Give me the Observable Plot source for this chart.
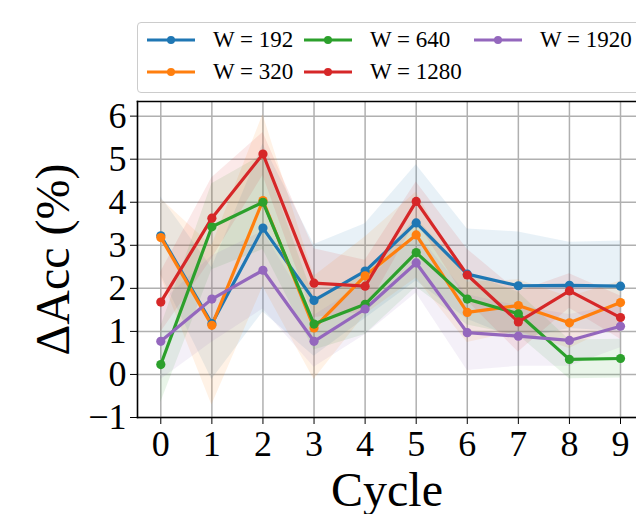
<!DOCTYPE html>
<html>
<head>
<meta charset="utf-8">
<script src="https://cdn.jsdelivr.net/npm/d3@7"></script>
<script src="https://cdn.jsdelivr.net/npm/@observablehq/plot@0.6"></script>
<style>
  html, body { margin: 0; padding: 0; background: #fff; }
  #wrap { position: relative; width: 636px; height: 514px; overflow: hidden; font-family: "Liberation Serif", "Times New Roman", serif; }
  #legend { position: absolute; left: 137px; top: 22px; width: 520px; height: 71px; border: 1px solid #cccccc; border-radius: 4px; background: rgba(255,255,255,0.8); box-sizing: border-box; }
  .item { position: absolute; display: flex; align-items: center; font-size: 23px; color: #000; white-space: nowrap; }
  .item svg { margin-right: 17px; }
</style>
</head>
<body>
<div id="wrap"><div id="chart"></div><div id="legend"></div></div>
<script>
const cycles = [0, 1, 2, 3, 4, 5, 6, 7, 8, 9];
const seriesNames = ["W = 192", "W = 320", "W = 640", "W = 1280", "W = 1920"];
const colors = ["#1f77b4", "#ff7f0e", "#2ca02c", "#d62728", "#9467bd"];

const mean192  = [3.22, 1.18, 3.40, 1.72, 2.40, 3.52, 2.33, 2.06, 2.07, 2.05];
const mean320  = [3.18, 1.14, 4.04, 1.08, 2.29, 3.24, 1.44, 1.60, 1.20, 1.67];
const mean640  = [0.23, 3.43, 4.00, 1.17, 1.63, 2.83, 1.75, 1.41, 0.35, 0.37];
const mean1280 = [1.68, 3.63, 5.12, 2.12, 2.05, 4.02, 2.31, 1.22, 1.94, 1.32];
const mean1920 = [0.77, 1.75, 2.42, 0.77, 1.52, 2.59, 0.97, 0.89, 0.79, 1.12];

const sd192  = [0.90, 1.30, 1.95, 1.30, 1.10, 1.35, 1.05, 1.25, 1.00, 1.05];
const sd320  = [0.90, 1.85, 2.00, 1.20, 0.90, 1.00, 0.70, 0.60, 0.60, 0.50];
const sd640  = [0.88, 1.00, 1.10, 0.60, 0.70, 0.80, 0.60, 0.50, 0.45, 0.45];
const sd1280 = [0.70, 0.94, 0.50, 0.80, 0.60, 0.45, 0.60, 0.70, 0.40, 0.50];
const sd1920 = [0.89, 1.00, 0.90, 0.60, 0.60, 0.70, 0.88, 0.70, 0.60, 0.50];

const yTicks = [-1, 0, 1, 2, 3, 4, 5, 6];
const xLabel = "Cycle";
const yLabel = "ΔAcc (%)";

const means = [mean192, mean320, mean640, mean1280, mean1920];
const sds = [sd192, sd320, sd640, sd1280, sd1920];
const data = [];
seriesNames.forEach((s, i) => {
  cycles.forEach((c, j) => {
    data.push({series: s, cycle: c, value: means[i][j], lo: means[i][j] - sds[i][j], hi: means[i][j] + sds[i][j]});
  });
});

const font = "'Liberation Serif', 'Times New Roman', serif";

const chart = Plot.plot({
  width: 636,
  height: 514,
  marginLeft: 137,
  marginTop: 101,
  marginBottom: 97,
  marginRight: 0,
  style: {fontFamily: font, fontSize: "36px", background: "transparent", color: "#000"},
  x: {domain: [-0.456, 9.313]},
  y: {domain: [-1, 6.34]},
  color: {domain: seriesNames, range: colors},
  marks: [
    Plot.gridX(cycles, {stroke: "#b0b0b0", strokeOpacity: 1, strokeWidth: 1.5}),
    Plot.gridY(yTicks, {stroke: "#b0b0b0", strokeOpacity: 1, strokeWidth: 1.5}),
    Plot.areaY(data, {x: "cycle", y1: "lo", y2: "hi", z: "series", fill: "series", fillOpacity: 0.1}),
    Plot.lineY(data, {x: "cycle", y: "value", z: "series", stroke: "series", strokeWidth: 3.2}),
    Plot.dot(data, {x: "cycle", y: "value", fill: "series", r: 4.6}),
    Plot.axisX({ticks: cycles, tickSize: 7, tickPadding: 6, label: null, fontSize: 36, tickFormat: d => String(d)}),
    Plot.axisY({ticks: yTicks, tickSize: 7, tickPadding: 4, label: null, fontSize: 36, tickFormat: d => d < 0 ? "\u2212" + Math.abs(d) : String(d)}),
    Plot.frame({anchor: "left", stroke: "#000", strokeWidth: 1.6}),
    Plot.frame({anchor: "bottom", stroke: "#000", strokeWidth: 1.6}),
    Plot.frame({anchor: "top", stroke: "#000", strokeWidth: 1.6}),
    Plot.text([xLabel], {frameAnchor: "bottom", dy: 73, fontSize: 48, textAnchor: "middle", lineAnchor: "middle", fill: "#000"}),
    Plot.text([yLabel], {frameAnchor: "left", dx: -84, rotate: -90, fontSize: 48, textAnchor: "middle", lineAnchor: "middle", fill: "#000"})
  ]
});
document.getElementById("chart").appendChild(chart);

// legend
const legend = document.getElementById("legend");
const cols = [8, 165, 335];
const rows = [17, 49];
seriesNames.forEach((s, i) => {
  const col = Math.floor(i / 2), row = i % 2;
  const div = document.createElement("div");
  div.className = "item";
  div.style.left = cols[col] + "px";
  div.style.top = (rows[row] - 14) + "px";
  div.style.height = "28px";
  div.innerHTML = `<svg width="50" height="12"><line x1="1" x2="49" y1="6" y2="6" stroke="${colors[i]}" stroke-width="3.2"/><circle cx="25" cy="6" r="4" fill="${colors[i]}"/></svg><span>${s}</span>`;
  legend.appendChild(div);
});
</script>
</body>
</html>
